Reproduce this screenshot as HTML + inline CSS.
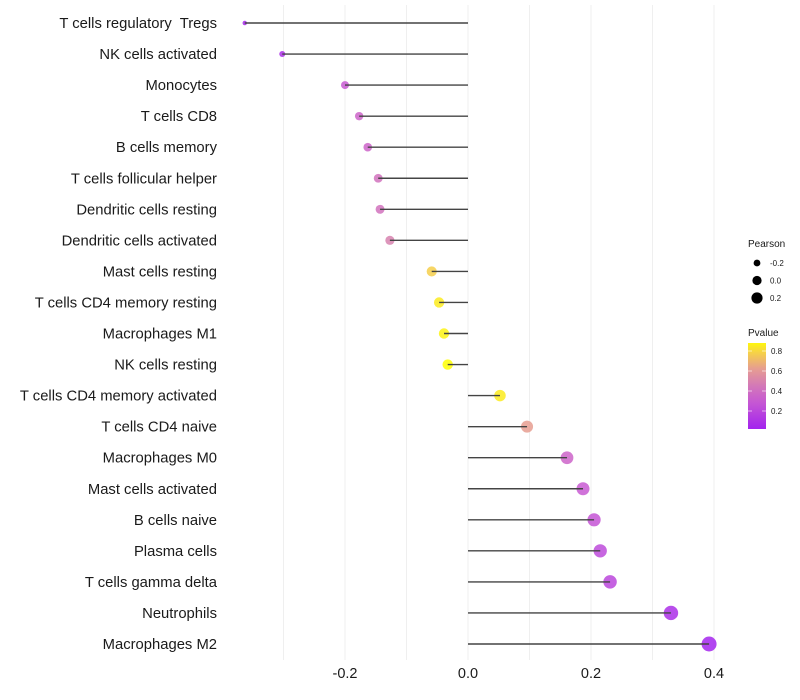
<!DOCTYPE html>
<html><head><meta charset="utf-8"><style>
body{margin:0;background:#fff;}
svg{display:block;font-family:"Liberation Sans",sans-serif;}
text{white-space:pre;}
</style></head><body>
<svg id="chart" width="800" height="700"></svg>
<script>
const categories=["T cells regulatory  Tregs","NK cells activated","Monocytes","T cells CD8","B cells memory","T cells follicular helper","Dendritic cells resting","Dendritic cells activated","Mast cells resting","T cells CD4 memory resting","Macrophages M1","NK cells resting","T cells CD4 memory activated","T cells CD4 naive","Macrophages M0","Mast cells activated","B cells naive","Plasma cells","T cells gamma delta","Neutrophils","Macrophages M2"];
const pearson=[-0.363,-0.302,-0.200,-0.177,-0.163,-0.146,-0.143,-0.127,-0.059,-0.047,-0.039,-0.033,0.052,0.096,0.161,0.187,0.205,0.215,0.231,0.330,0.392];
const pvalue=[0.05,0.08,0.3,0.35,0.35,0.42,0.42,0.5,0.78,0.85,0.87,0.92,0.85,0.62,0.35,0.3,0.27,0.22,0.2,0.08,0.03];
const xTicks=[-0.2,0.0,0.2,0.4];
const xTickLabels=["-0.2","0.0","0.2","0.4"];
const gridVals=[-0.3,-0.2,-0.1,0,0.1,0.2,0.3,0.4];
const NS="http://www.w3.org/2000/svg";
const svg=document.getElementById('chart');
const xS=v=>468+v*615;
const yS=i=>23+i*31.05;
const rS=v=>Math.sqrt(Math.max(2,29.6+68*v));
function mk(t,a,p){const e=document.createElementNS(NS,t);for(const k in a)e.setAttribute(k,a[k]);(p||svg).appendChild(e);return e;}
const stops=[[0,[160,32,240]],[0.3,[200,90,210]],[0.5,[215,130,175]],[0.7,[240,175,125]],[0.9,[255,255,0]],[1,[255,255,0]]];
function col(p){p=Math.max(0,Math.min(1,p));for(let i=1;i<stops.length;i++){if(p<=stops[i][0]){const a=stops[i-1],b=stops[i];const t=(p-a[0])/(b[0]-a[0]);const c=a[1].map((v,j)=>Math.round(v+(b[1][j]-v)*t));return `rgb(${c})`;}}return 'rgb(255,255,0)';}
gridVals.forEach(v=>{const g=mk('line',{x1:xS(v),x2:xS(v),y1:5,y2:660,stroke:'#efefef','stroke-width':1});
});
xTicks.forEach((v,i)=>{const t=mk('text',{x:xS(v),y:678,'text-anchor':'middle','font-size':14.5,fill:'#1a1a1a'});t.textContent=xTickLabels[i];
});
categories.forEach((c,i)=>{const y=yS(i);
const t=mk('text',{x:217,y:y+5,'text-anchor':'end','font-size':14.8,fill:'#1a1a1a'});t.textContent=c;

const pt=mk('circle',{cx:xS(pearson[i]),cy:y,r:rS(pearson[i]),fill:col(pvalue[i]),'fill-opacity':0.85});

const s=mk('line',{x1:xS(0),x2:xS(pearson[i]),y1:y,y2:y,stroke:'#444','stroke-width':1.4});
});
const lg=mk('g',{});
let t=mk('text',{x:748,y:247,'font-size':10,fill:'#1a1a1a'},lg);t.textContent='Pearson';
[-0.2,0,0.2].forEach((v,i)=>{const y=263+i*17.5;const c=mk('circle',{cx:757,cy:y,r:rS(v)*0.85,fill:'#000'},lg);

const tt=mk('text',{x:770,y:y+3,'font-size':8,fill:'#1a1a1a'},lg);tt.textContent=['-0.2','0.0','0.2'][i];});
t=mk('text',{x:748,y:336,'font-size':10,fill:'#1a1a1a'},lg);t.textContent='Pvalue';
const defs=mk('defs',{});const gr=mk('linearGradient',{id:'pg',x1:0,y1:1,x2:0,y2:0},defs);
[0,0.1,0.3,0.5,0.7,0.9,1].forEach(o=>mk('stop',{offset:o,'stop-color':col(0.02+o*0.86)},gr));
const cb=mk('rect',{x:748,y:343,width:18,height:86,fill:'url(#pg)'},lg);

[0.8,0.6,0.4,0.2].forEach(v=>{const y=429-(v-0.02)/0.86*86;
mk('line',{x1:748,x2:752,y1:y,y2:y,stroke:'#fff','stroke-opacity':0.6},lg);mk('line',{x1:762,x2:766,y1:y,y2:y,stroke:'#fff','stroke-opacity':0.6},lg);
const tt=mk('text',{x:771,y:y+3,'font-size':8,fill:'#1a1a1a'},lg);tt.textContent=v.toFixed(1);});
</script>
</body></html>
